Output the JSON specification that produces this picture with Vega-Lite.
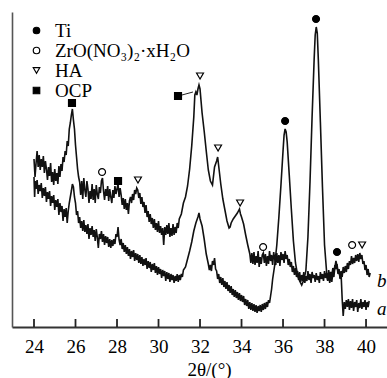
{
  "$schema": "https://vega.github.io/schema/vega-lite/v6.json",
  "width": 375,
  "height": 315,
  "autosize": {"type": "none"},
  "padding": {"left": 12, "top": 12, "right": 0, "bottom": 51},
  "background": "white",
  "config": {
    "view": {"stroke": null},
    "font": "Liberation Serif",
    "legend": {
      "orient": "none",
      "legendX": 15,
      "legendY": 9,
      "padding": 0,
      "rowPadding": -3,
      "labelFont": "Liberation Serif",
      "labelFontSize": 19,
      "labelColor": "#000",
      "labelOffset": 9,
      "symbolSize": 42,
      "symbolStrokeColor": "#000",
      "symbolStrokeWidth": 1.2,
      "symbolOpacity": 1
    }
  },
  "datasets": {
    "xrd": [
      {"s":"b","t":24.0,"i":168},{"s":"b","t":24.05,"i":150},{"s":"b","t":24.1,"i":164},{"s":"b","t":24.15,"i":176},{"s":"b","t":24.2,"i":160},
      {"s":"b","t":24.25,"i":172},{"s":"b","t":24.3,"i":157},{"s":"b","t":24.35,"i":168},{"s":"b","t":24.4,"i":160},{"s":"b","t":24.45,"i":171},
      {"s":"b","t":24.5,"i":154},{"s":"b","t":24.55,"i":166},{"s":"b","t":24.6,"i":158},{"s":"b","t":24.65,"i":147},{"s":"b","t":24.7,"i":160},
      {"s":"b","t":24.75,"i":151},{"s":"b","t":24.8,"i":164},{"s":"b","t":24.85,"i":145},{"s":"b","t":24.9,"i":155},{"s":"b","t":24.95,"i":142},
      {"s":"b","t":25.0,"i":158},{"s":"b","t":25.05,"i":146},{"s":"b","t":25.1,"i":154},{"s":"b","t":25.15,"i":143},{"s":"b","t":25.2,"i":161},
      {"s":"b","t":25.25,"i":150},{"s":"b","t":25.3,"i":163},{"s":"b","t":25.35,"i":156},{"s":"b","t":25.4,"i":170},{"s":"b","t":25.45,"i":165},
      {"s":"b","t":25.5,"i":176},{"s":"b","t":25.55,"i":172},{"s":"b","t":25.6,"i":186},{"s":"b","t":25.65,"i":181},{"s":"b","t":25.7,"i":198},
      {"s":"b","t":25.75,"i":204},{"s":"b","t":25.8,"i":212},{"s":"b","t":25.85,"i":218},{"s":"b","t":25.9,"i":207},{"s":"b","t":25.95,"i":198},
      {"s":"b","t":26.0,"i":182},{"s":"b","t":26.05,"i":170},{"s":"b","t":26.1,"i":158},{"s":"b","t":26.15,"i":150},{"s":"b","t":26.2,"i":145},
      {"s":"b","t":26.25,"i":132},{"s":"b","t":26.3,"i":146},{"s":"b","t":26.35,"i":128},{"s":"b","t":26.4,"i":149},{"s":"b","t":26.45,"i":137},
      {"s":"b","t":26.5,"i":130},{"s":"b","t":26.55,"i":146},{"s":"b","t":26.6,"i":138},{"s":"b","t":26.65,"i":124},{"s":"b","t":26.7,"i":136},
      {"s":"b","t":26.75,"i":128},{"s":"b","t":26.8,"i":143},{"s":"b","t":26.85,"i":127},{"s":"b","t":26.9,"i":138},{"s":"b","t":26.95,"i":124},
      {"s":"b","t":27.0,"i":142},{"s":"b","t":27.05,"i":133},{"s":"b","t":27.1,"i":128},{"s":"b","t":27.15,"i":140},{"s":"b","t":27.2,"i":134},
      {"s":"b","t":27.25,"i":146},{"s":"b","t":27.3,"i":149},{"s":"b","t":27.35,"i":136},{"s":"b","t":27.4,"i":127},{"s":"b","t":27.45,"i":138},
      {"s":"b","t":27.5,"i":131},{"s":"b","t":27.55,"i":141},{"s":"b","t":27.6,"i":126},{"s":"b","t":27.65,"i":138},{"s":"b","t":27.7,"i":130},
      {"s":"b","t":27.75,"i":124},{"s":"b","t":27.8,"i":137},{"s":"b","t":27.85,"i":129},{"s":"b","t":27.9,"i":141},{"s":"b","t":27.95,"i":133},
      {"s":"b","t":28.0,"i":138},{"s":"b","t":28.05,"i":143},{"s":"b","t":28.1,"i":130},{"s":"b","t":28.15,"i":139},{"s":"b","t":28.2,"i":132},
      {"s":"b","t":28.25,"i":122},{"s":"b","t":28.3,"i":129},{"s":"b","t":28.35,"i":118},{"s":"b","t":28.4,"i":128},{"s":"b","t":28.45,"i":117},
      {"s":"b","t":28.5,"i":124},{"s":"b","t":28.55,"i":113},{"s":"b","t":28.6,"i":126},{"s":"b","t":28.65,"i":130},{"s":"b","t":28.7,"i":124},
      {"s":"b","t":28.75,"i":133},{"s":"b","t":28.8,"i":127},{"s":"b","t":28.85,"i":137},{"s":"b","t":28.9,"i":133},{"s":"b","t":28.95,"i":139},
      {"s":"b","t":29.0,"i":137},{"s":"b","t":29.05,"i":129},{"s":"b","t":29.1,"i":134},{"s":"b","t":29.15,"i":123},{"s":"b","t":29.2,"i":130},
      {"s":"b","t":29.25,"i":120},{"s":"b","t":29.3,"i":125},{"s":"b","t":29.35,"i":114},{"s":"b","t":29.4,"i":122},{"s":"b","t":29.45,"i":110},
      {"s":"b","t":29.5,"i":116},{"s":"b","t":29.55,"i":105},{"s":"b","t":29.6,"i":113},{"s":"b","t":29.65,"i":103},{"s":"b","t":29.7,"i":109},
      {"s":"b","t":29.75,"i":99},{"s":"b","t":29.8,"i":108},{"s":"b","t":29.85,"i":97},{"s":"b","t":29.9,"i":104},{"s":"b","t":29.95,"i":95},
      {"s":"b","t":30.0,"i":106},{"s":"b","t":30.05,"i":94},{"s":"b","t":30.1,"i":101},{"s":"b","t":30.15,"i":92},{"s":"b","t":30.2,"i":99},
      {"s":"b","t":30.25,"i":82},{"s":"b","t":30.3,"i":100},{"s":"b","t":30.35,"i":92},{"s":"b","t":30.4,"i":102},{"s":"b","t":30.45,"i":93},
      {"s":"b","t":30.5,"i":104},{"s":"b","t":30.55,"i":90},{"s":"b","t":30.6,"i":99},{"s":"b","t":30.65,"i":91},{"s":"b","t":30.7,"i":103},
      {"s":"b","t":30.75,"i":92},{"s":"b","t":30.8,"i":100},{"s":"b","t":30.85,"i":94},{"s":"b","t":30.9,"i":104},{"s":"b","t":30.95,"i":99},
      {"s":"b","t":31.0,"i":108},{"s":"b","t":31.1,"i":113},{"s":"b","t":31.2,"i":124},{"s":"b","t":31.3,"i":130},{"s":"b","t":31.4,"i":141},
      {"s":"b","t":31.5,"i":158},{"s":"b","t":31.6,"i":181},{"s":"b","t":31.7,"i":210},{"s":"b","t":31.75,"i":232},{"s":"b","t":31.8,"i":235},
      {"s":"b","t":31.85,"i":232},{"s":"b","t":31.9,"i":238},{"s":"b","t":31.95,"i":242},{"s":"b","t":32.0,"i":238},{"s":"b","t":32.05,"i":226},
      {"s":"b","t":32.1,"i":214},{"s":"b","t":32.2,"i":196},{"s":"b","t":32.3,"i":176},{"s":"b","t":32.4,"i":157},{"s":"b","t":32.5,"i":146},
      {"s":"b","t":32.6,"i":142},{"s":"b","t":32.7,"i":160},{"s":"b","t":32.8,"i":166},{"s":"b","t":32.85,"i":170},{"s":"b","t":32.9,"i":161},
      {"s":"b","t":33.0,"i":143},{"s":"b","t":33.1,"i":128},{"s":"b","t":33.2,"i":117},{"s":"b","t":33.3,"i":106},{"s":"b","t":33.4,"i":99},
      {"s":"b","t":33.45,"i":100},{"s":"b","t":33.5,"i":104},{"s":"b","t":33.6,"i":108},{"s":"b","t":33.7,"i":111},{"s":"b","t":33.8,"i":114},
      {"s":"b","t":33.9,"i":118},{"s":"b","t":33.95,"i":113},{"s":"b","t":34.0,"i":110},{"s":"b","t":34.1,"i":103},{"s":"b","t":34.2,"i":92},
      {"s":"b","t":34.3,"i":82},{"s":"b","t":34.4,"i":73},{"s":"b","t":34.45,"i":64},{"s":"b","t":34.5,"i":74},{"s":"b","t":34.55,"i":63},
      {"s":"b","t":34.6,"i":75},{"s":"b","t":34.65,"i":62},{"s":"b","t":34.7,"i":71},{"s":"b","t":34.75,"i":64},{"s":"b","t":34.8,"i":76},
      {"s":"b","t":34.85,"i":60},{"s":"b","t":34.9,"i":70},{"s":"b","t":34.95,"i":63},{"s":"b","t":35.0,"i":72},{"s":"b","t":35.05,"i":74},
      {"s":"b","t":35.1,"i":64},{"s":"b","t":35.15,"i":73},{"s":"b","t":35.2,"i":61},{"s":"b","t":35.25,"i":71},{"s":"b","t":35.3,"i":63},
      {"s":"b","t":35.35,"i":76},{"s":"b","t":35.4,"i":66},{"s":"b","t":35.45,"i":72},{"s":"b","t":35.5,"i":62},{"s":"b","t":35.55,"i":75},
      {"s":"b","t":35.6,"i":68},{"s":"b","t":35.65,"i":62},{"s":"b","t":35.7,"i":74},{"s":"b","t":35.75,"i":64},{"s":"b","t":35.8,"i":72},
      {"s":"b","t":35.85,"i":61},{"s":"b","t":35.9,"i":75},{"s":"b","t":35.95,"i":67},{"s":"b","t":36.0,"i":73},{"s":"b","t":36.05,"i":64},
      {"s":"b","t":36.1,"i":76},{"s":"b","t":36.15,"i":68},{"s":"b","t":36.2,"i":72},{"s":"b","t":36.25,"i":62},{"s":"b","t":36.3,"i":68},
      {"s":"b","t":36.35,"i":60},{"s":"b","t":36.4,"i":65},{"s":"b","t":36.45,"i":55},{"s":"b","t":36.5,"i":61},{"s":"b","t":36.55,"i":52},
      {"s":"b","t":36.6,"i":59},{"s":"b","t":36.65,"i":50},{"s":"b","t":36.7,"i":56},{"s":"b","t":36.75,"i":47},{"s":"b","t":36.8,"i":55},
      {"s":"b","t":36.85,"i":45},{"s":"b","t":36.9,"i":52},{"s":"b","t":36.95,"i":46},{"s":"b","t":37.0,"i":55},{"s":"b","t":37.05,"i":44},
      {"s":"b","t":37.1,"i":51},{"s":"b","t":37.15,"i":46},{"s":"b","t":37.2,"i":56},{"s":"b","t":37.25,"i":47},{"s":"b","t":37.3,"i":53},
      {"s":"b","t":37.35,"i":44},{"s":"b","t":37.4,"i":55},{"s":"b","t":37.45,"i":49},{"s":"b","t":37.5,"i":52},{"s":"b","t":37.55,"i":45},
      {"s":"b","t":37.6,"i":54},{"s":"b","t":37.65,"i":47},{"s":"b","t":37.7,"i":51},{"s":"b","t":37.75,"i":44},{"s":"b","t":37.8,"i":55},
      {"s":"b","t":37.85,"i":48},{"s":"b","t":37.9,"i":53},{"s":"b","t":37.95,"i":46},{"s":"b","t":38.0,"i":56},{"s":"b","t":38.05,"i":49},
      {"s":"b","t":38.1,"i":54},{"s":"b","t":38.15,"i":47},{"s":"b","t":38.2,"i":57},{"s":"b","t":38.25,"i":50},{"s":"b","t":38.3,"i":55},
      {"s":"b","t":38.35,"i":51},{"s":"b","t":38.4,"i":59},{"s":"b","t":38.45,"i":53},{"s":"b","t":38.5,"i":62},{"s":"b","t":38.55,"i":58},
      {"s":"b","t":38.6,"i":63},{"s":"b","t":38.65,"i":55},{"s":"b","t":38.7,"i":58},{"s":"b","t":38.75,"i":49},{"s":"b","t":38.8,"i":56},
      {"s":"b","t":38.85,"i":50},{"s":"b","t":38.9,"i":60},{"s":"b","t":38.95,"i":54},{"s":"b","t":39.0,"i":61},{"s":"b","t":39.05,"i":55},
      {"s":"b","t":39.1,"i":64},{"s":"b","t":39.15,"i":58},{"s":"b","t":39.2,"i":66},{"s":"b","t":39.25,"i":62},{"s":"b","t":39.3,"i":71},
      {"s":"b","t":39.35,"i":63},{"s":"b","t":39.4,"i":69},{"s":"b","t":39.45,"i":64},{"s":"b","t":39.5,"i":72},{"s":"b","t":39.55,"i":66},
      {"s":"b","t":39.6,"i":73},{"s":"b","t":39.65,"i":65},{"s":"b","t":39.7,"i":74},{"s":"b","t":39.75,"i":68},{"s":"b","t":39.8,"i":72},
      {"s":"b","t":39.85,"i":63},{"s":"b","t":39.9,"i":66},{"s":"b","t":39.95,"i":57},{"s":"b","t":40.0,"i":62},{"s":"b","t":40.05,"i":52},
      {"s":"b","t":40.1,"i":58},{"s":"b","t":40.15,"i":50},{"s":"b","t":40.2,"i":54},

      {"s":"a","t":24.0,"i":150},{"s":"a","t":24.03,"i":130},{"s":"a","t":24.06,"i":146},{"s":"a","t":24.1,"i":138},{"s":"a","t":24.15,"i":147},
      {"s":"a","t":24.2,"i":133},{"s":"a","t":24.25,"i":142},{"s":"a","t":24.3,"i":136},{"s":"a","t":24.35,"i":144},{"s":"a","t":24.4,"i":129},
      {"s":"a","t":24.45,"i":139},{"s":"a","t":24.5,"i":131},{"s":"a","t":24.55,"i":140},{"s":"a","t":24.6,"i":125},{"s":"a","t":24.65,"i":135},
      {"s":"a","t":24.7,"i":128},{"s":"a","t":24.75,"i":136},{"s":"a","t":24.8,"i":121},{"s":"a","t":24.85,"i":131},{"s":"a","t":24.9,"i":124},
      {"s":"a","t":24.95,"i":132},{"s":"a","t":25.0,"i":117},{"s":"a","t":25.05,"i":127},{"s":"a","t":25.1,"i":120},{"s":"a","t":25.15,"i":128},
      {"s":"a","t":25.2,"i":112},{"s":"a","t":25.25,"i":124},{"s":"a","t":25.3,"i":115},{"s":"a","t":25.35,"i":121},{"s":"a","t":25.4,"i":106},
      {"s":"a","t":25.45,"i":118},{"s":"a","t":25.5,"i":110},{"s":"a","t":25.55,"i":119},{"s":"a","t":25.6,"i":104},{"s":"a","t":25.65,"i":116},
      {"s":"a","t":25.7,"i":124},{"s":"a","t":25.75,"i":130},{"s":"a","t":25.8,"i":136},{"s":"a","t":25.85,"i":143},{"s":"a","t":25.9,"i":140},
      {"s":"a","t":25.95,"i":130},{"s":"a","t":26.0,"i":124},{"s":"a","t":26.05,"i":112},{"s":"a","t":26.1,"i":116},{"s":"a","t":26.15,"i":104},
      {"s":"a","t":26.2,"i":110},{"s":"a","t":26.25,"i":99},{"s":"a","t":26.3,"i":106},{"s":"a","t":26.35,"i":96},{"s":"a","t":26.4,"i":107},
      {"s":"a","t":26.45,"i":95},{"s":"a","t":26.5,"i":102},{"s":"a","t":26.55,"i":93},{"s":"a","t":26.6,"i":103},{"s":"a","t":26.65,"i":88},
      {"s":"a","t":26.7,"i":99},{"s":"a","t":26.75,"i":92},{"s":"a","t":26.8,"i":101},{"s":"a","t":26.85,"i":90},{"s":"a","t":26.9,"i":97},
      {"s":"a","t":26.95,"i":86},{"s":"a","t":27.0,"i":98},{"s":"a","t":27.05,"i":90},{"s":"a","t":27.1,"i":79},{"s":"a","t":27.15,"i":93},
      {"s":"a","t":27.2,"i":88},{"s":"a","t":27.25,"i":96},{"s":"a","t":27.3,"i":85},{"s":"a","t":27.35,"i":93},{"s":"a","t":27.4,"i":82},
      {"s":"a","t":27.45,"i":91},{"s":"a","t":27.5,"i":84},{"s":"a","t":27.55,"i":90},{"s":"a","t":27.6,"i":80},{"s":"a","t":27.65,"i":88},
      {"s":"a","t":27.7,"i":79},{"s":"a","t":27.75,"i":87},{"s":"a","t":27.8,"i":81},{"s":"a","t":27.85,"i":88},{"s":"a","t":27.9,"i":83},
      {"s":"a","t":27.95,"i":93},{"s":"a","t":28.0,"i":90},{"s":"a","t":28.05,"i":100},{"s":"a","t":28.1,"i":87},{"s":"a","t":28.15,"i":82},
      {"s":"a","t":28.2,"i":88},{"s":"a","t":28.25,"i":78},{"s":"a","t":28.3,"i":84},{"s":"a","t":28.35,"i":75},{"s":"a","t":28.4,"i":82},
      {"s":"a","t":28.45,"i":73},{"s":"a","t":28.5,"i":80},{"s":"a","t":28.55,"i":71},{"s":"a","t":28.6,"i":78},{"s":"a","t":28.65,"i":68},
      {"s":"a","t":28.7,"i":76},{"s":"a","t":28.75,"i":70},{"s":"a","t":28.8,"i":77},{"s":"a","t":28.85,"i":66},{"s":"a","t":28.9,"i":74},
      {"s":"a","t":28.95,"i":67},{"s":"a","t":29.0,"i":73},{"s":"a","t":29.05,"i":64},{"s":"a","t":29.1,"i":72},{"s":"a","t":29.15,"i":63},
      {"s":"a","t":29.2,"i":70},{"s":"a","t":29.25,"i":61},{"s":"a","t":29.3,"i":68},{"s":"a","t":29.35,"i":62},{"s":"a","t":29.4,"i":69},
      {"s":"a","t":29.45,"i":58},{"s":"a","t":29.5,"i":66},{"s":"a","t":29.55,"i":59},{"s":"a","t":29.6,"i":65},{"s":"a","t":29.65,"i":55},
      {"s":"a","t":29.7,"i":63},{"s":"a","t":29.75,"i":57},{"s":"a","t":29.8,"i":64},{"s":"a","t":29.85,"i":54},{"s":"a","t":29.9,"i":61},
      {"s":"a","t":29.95,"i":52},{"s":"a","t":30.0,"i":60},{"s":"a","t":30.05,"i":53},{"s":"a","t":30.1,"i":58},{"s":"a","t":30.15,"i":49},
      {"s":"a","t":30.2,"i":57},{"s":"a","t":30.25,"i":51},{"s":"a","t":30.3,"i":56},{"s":"a","t":30.35,"i":46},{"s":"a","t":30.4,"i":55},
      {"s":"a","t":30.45,"i":48},{"s":"a","t":30.5,"i":54},{"s":"a","t":30.55,"i":45},{"s":"a","t":30.6,"i":53},{"s":"a","t":30.65,"i":47},
      {"s":"a","t":30.7,"i":52},{"s":"a","t":30.75,"i":44},{"s":"a","t":30.8,"i":51},{"s":"a","t":30.85,"i":46},{"s":"a","t":30.9,"i":53},
      {"s":"a","t":30.95,"i":45},{"s":"a","t":31.0,"i":52},{"s":"a","t":31.05,"i":47},{"s":"a","t":31.1,"i":53},{"s":"a","t":31.15,"i":50},
      {"s":"a","t":31.2,"i":57},{"s":"a","t":31.3,"i":60},{"s":"a","t":31.4,"i":68},{"s":"a","t":31.5,"i":76},{"s":"a","t":31.6,"i":85},
      {"s":"a","t":31.7,"i":96},{"s":"a","t":31.8,"i":104},{"s":"a","t":31.9,"i":110},{"s":"a","t":31.95,"i":114},{"s":"a","t":32.0,"i":108},
      {"s":"a","t":32.1,"i":101},{"s":"a","t":32.2,"i":88},{"s":"a","t":32.3,"i":73},{"s":"a","t":32.4,"i":63},{"s":"a","t":32.45,"i":57},
      {"s":"a","t":32.5,"i":62},{"s":"a","t":32.55,"i":56},{"s":"a","t":32.6,"i":66},{"s":"a","t":32.65,"i":62},{"s":"a","t":32.7,"i":69},
      {"s":"a","t":32.75,"i":58},{"s":"a","t":32.8,"i":56},{"s":"a","t":32.85,"i":48},{"s":"a","t":32.9,"i":53},{"s":"a","t":32.95,"i":44},
      {"s":"a","t":33.0,"i":50},{"s":"a","t":33.05,"i":42},{"s":"a","t":33.1,"i":49},{"s":"a","t":33.15,"i":40},{"s":"a","t":33.2,"i":46},
      {"s":"a","t":33.25,"i":38},{"s":"a","t":33.3,"i":45},{"s":"a","t":33.35,"i":36},{"s":"a","t":33.4,"i":42},{"s":"a","t":33.45,"i":34},
      {"s":"a","t":33.5,"i":41},{"s":"a","t":33.55,"i":32},{"s":"a","t":33.6,"i":38},{"s":"a","t":33.65,"i":30},{"s":"a","t":33.7,"i":37},
      {"s":"a","t":33.75,"i":29},{"s":"a","t":33.8,"i":35},{"s":"a","t":33.85,"i":27},{"s":"a","t":33.9,"i":34},{"s":"a","t":33.95,"i":26},
      {"s":"a","t":34.0,"i":32},{"s":"a","t":34.05,"i":25},{"s":"a","t":34.1,"i":31},{"s":"a","t":34.15,"i":22},{"s":"a","t":34.2,"i":28},
      {"s":"a","t":34.25,"i":21},{"s":"a","t":34.3,"i":27},{"s":"a","t":34.35,"i":18},{"s":"a","t":34.4,"i":25},{"s":"a","t":34.45,"i":17},
      {"s":"a","t":34.5,"i":24},{"s":"a","t":34.55,"i":16},{"s":"a","t":34.6,"i":23},{"s":"a","t":34.65,"i":15},{"s":"a","t":34.7,"i":22},
      {"s":"a","t":34.75,"i":14},{"s":"a","t":34.8,"i":21},{"s":"a","t":34.85,"i":16},{"s":"a","t":34.9,"i":22},{"s":"a","t":34.95,"i":15},
      {"s":"a","t":35.0,"i":23},{"s":"a","t":35.05,"i":17},{"s":"a","t":35.1,"i":24},{"s":"a","t":35.15,"i":18},{"s":"a","t":35.2,"i":25},
      {"s":"a","t":35.25,"i":20},{"s":"a","t":35.3,"i":27},{"s":"a","t":35.35,"i":24},{"s":"a","t":35.4,"i":31},{"s":"a","t":35.45,"i":38},
      {"s":"a","t":35.5,"i":48},{"s":"a","t":35.6,"i":62},{"s":"a","t":35.7,"i":82},{"s":"a","t":35.8,"i":110},{"s":"a","t":35.9,"i":142},
      {"s":"a","t":36.0,"i":176},{"s":"a","t":36.05,"i":192},{"s":"a","t":36.1,"i":198},{"s":"a","t":36.15,"i":195},{"s":"a","t":36.2,"i":185},
      {"s":"a","t":36.3,"i":152},{"s":"a","t":36.4,"i":118},{"s":"a","t":36.5,"i":86},{"s":"a","t":36.6,"i":64},{"s":"a","t":36.7,"i":52},
      {"s":"a","t":36.8,"i":46},{"s":"a","t":36.9,"i":42},{"s":"a","t":37.0,"i":47},{"s":"a","t":37.1,"i":56},{"s":"a","t":37.2,"i":90},
      {"s":"a","t":37.3,"i":145},{"s":"a","t":37.4,"i":210},{"s":"a","t":37.5,"i":268},{"s":"a","t":37.55,"i":292},{"s":"a","t":37.6,"i":300},
      {"s":"a","t":37.65,"i":294},{"s":"a","t":37.7,"i":268},{"s":"a","t":37.8,"i":205},{"s":"a","t":37.9,"i":140},{"s":"a","t":38.0,"i":82},
      {"s":"a","t":38.1,"i":55},{"s":"a","t":38.15,"i":46},{"s":"a","t":38.2,"i":53},{"s":"a","t":38.25,"i":44},{"s":"a","t":38.3,"i":52},
      {"s":"a","t":38.35,"i":45},{"s":"a","t":38.4,"i":54},{"s":"a","t":38.45,"i":50},{"s":"a","t":38.5,"i":60},{"s":"a","t":38.55,"i":66},
      {"s":"a","t":38.6,"i":61},{"s":"a","t":38.65,"i":53},{"s":"a","t":38.7,"i":56},{"s":"a","t":38.75,"i":48},{"s":"a","t":38.8,"i":52},
      {"s":"a","t":38.85,"i":28},{"s":"a","t":38.9,"i":11},{"s":"a","t":38.95,"i":25},{"s":"a","t":39.0,"i":18},{"s":"a","t":39.05,"i":27},
      {"s":"a","t":39.1,"i":20},{"s":"a","t":39.15,"i":28},{"s":"a","t":39.2,"i":17},{"s":"a","t":39.25,"i":26},{"s":"a","t":39.3,"i":19},
      {"s":"a","t":39.35,"i":28},{"s":"a","t":39.4,"i":16},{"s":"a","t":39.45,"i":25},{"s":"a","t":39.5,"i":20},{"s":"a","t":39.55,"i":27},
      {"s":"a","t":39.6,"i":15},{"s":"a","t":39.65,"i":24},{"s":"a","t":39.7,"i":19},{"s":"a","t":39.75,"i":28},{"s":"a","t":39.8,"i":18},
      {"s":"a","t":39.85,"i":25},{"s":"a","t":39.9,"i":20},{"s":"a","t":39.95,"i":27},{"s":"a","t":40.0,"i":17},{"s":"a","t":40.05,"i":25},
      {"s":"a","t":40.1,"i":20},{"s":"a","t":40.15,"i":26}
    ],
    "peaks": [
      {"t":25.83,"i":224,"p":"OCP"},
      {"t":27.28,"i":155,"p":"ZrO(NO₃)₂·xH₂O"},
      {"t":28.05,"i":146,"p":"OCP"},
      {"t":29.01,"i":147,"p":"HA"},
      {"t":30.94,"i":231,"p":"OCP"},
      {"t":32.0,"i":251,"p":"HA"},
      {"t":32.87,"i":179,"p":"HA"},
      {"t":33.93,"i":124,"p":"HA"},
      {"t":35.04,"i":80,"p":"ZrO(NO₃)₂·xH₂O"},
      {"t":36.1,"i":206,"p":"Ti"},
      {"t":37.59,"i":308,"p":"Ti"},
      {"t":38.6,"i":75,"p":"Ti"},
      {"t":39.33,"i":82,"p":"ZrO(NO₃)₂·xH₂O"},
      {"t":39.81,"i":82,"p":"HA"}
    ],
    "leaders": [
      {"t":31.13,"i":232,"t2":31.66,"i2":235}
    ],
    "ticks": [
      {"t":24},{"t":26},{"t":28},{"t":30},{"t":32},{"t":34},{"t":36},{"t":38},{"t":40}
    ],
    "curveNames": [
      {"t":40.53,"i":40,"name":"b"},
      {"t":40.53,"i":12,"name":"a"}
    ]
  },
  "layer": [
    {
      "mark": {"type": "rule", "color": "#666", "strokeWidth": 2},
      "encoding": {
        "y": {"datum": 315, "type": "quantitative", "scale": {"domain": [0, 315], "nice": false}, "title": null}
      }
    },
    {
      "data": {"name": "ticks"},
      "mark": {"type": "rule", "color": "#222", "strokeWidth": 1.8},
      "encoding": {
        "x": {"field": "t", "type": "quantitative", "title": "2θ/(°)"},
        "y": {"datum": 0, "type": "quantitative", "title": null},
        "y2": {"datum": 8}
      }
    },
    {
      "data": {"name": "xrd"},
      "mark": {"type": "line", "color": "#111", "strokeWidth": 1.6, "strokeJoin": "miter"},
      "encoding": {
        "x": {
          "field": "t", "type": "quantitative",
          "scale": {"domain": [22.94, 41.01], "nice": false, "zero": false},
          "title": "2θ/(°)",
          "axis": {
            "values": [24, 26, 28, 30, 32, 34, 36, 38, 40],
            "format": "d",
            "grid": false,
            "ticks": false,
            "domainColor": "#333",
            "domainWidth": 1.8,
            "labelFont": "Liberation Serif",
            "labelFontSize": 19,
            "labelColor": "#000",
            "labelPadding": 10,
            "labelFlush": false,
            "titleFont": "Liberation Serif",
            "titleFontSize": 19,
            "titleFontWeight": "normal",
            "titleColor": "#000",
            "titleX": 197,
            "titleY": 48,
            "titleBaseline": "alphabetic"
          }
        },
        "y": {
          "field": "i", "type": "quantitative",
          "scale": {"domain": [0, 315], "nice": false},
          "title": null,
          "axis": {"labels": false, "ticks": false, "grid": false, "domain": true, "domainColor": "#555", "domainWidth": 1.6}
        },
        "detail": {"field": "s"}
      }
    },
    {
      "data": {"name": "leaders"},
      "mark": {"type": "rule", "color": "#222", "strokeWidth": 1},
      "encoding": {
        "x": {"field": "t", "type": "quantitative", "title": "2θ/(°)"},
        "x2": {"field": "t2"},
        "y": {"field": "i", "type": "quantitative", "title": null},
        "y2": {"field": "i2"}
      }
    },
    {
      "data": {"name": "peaks"},
      "mark": {"type": "point", "stroke": "#000", "strokeWidth": 1.2, "opacity": 1, "size": 48},
      "encoding": {
        "x": {"field": "t", "type": "quantitative", "title": "2θ/(°)"},
        "y": {"field": "i", "type": "quantitative", "title": null},
        "shape": {
          "field": "p", "type": "nominal",
          "scale": {"domain": ["Ti", "ZrO(NO₃)₂·xH₂O", "HA", "OCP"], "range": ["circle", "circle", "triangle-down", "square"]},
          "title": null,
          "legend": {
            "encode": {"symbols": {"update": {"stroke": {"value": "#000"}, "strokeWidth": {"value": 1.2}}}}
          }
        },
        "fill": {
          "field": "p", "type": "nominal",
          "scale": {"domain": ["Ti", "ZrO(NO₃)₂·xH₂O", "HA", "OCP"], "range": ["#000", "#fff", "#fff", "#000"]},
          "title": null,
          "legend": {
            "encode": {"symbols": {"update": {"stroke": {"value": "#000"}, "strokeWidth": {"value": 1.2}}}}
          }
        }
      }
    },
    {
      "data": {"name": "curveNames"},
      "mark": {"type": "text", "font": "Liberation Serif", "fontSize": 19, "fontStyle": "italic", "align": "left", "baseline": "alphabetic", "color": "#000"},
      "encoding": {
        "x": {"field": "t", "type": "quantitative", "title": "2θ/(°)"},
        "y": {"field": "i", "type": "quantitative", "title": null},
        "text": {"field": "name"}
      }
    }
  ]
}
